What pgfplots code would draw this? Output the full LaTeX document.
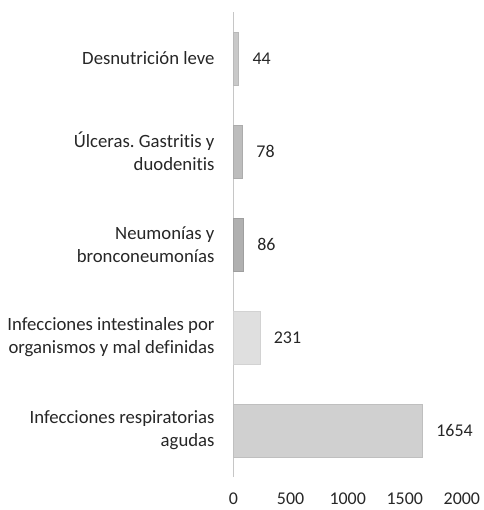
\documentclass[border=0pt]{standalone}
\usepackage{pgfplots}
\pgfplotsset{compat=1.18}
\usepackage{fontspec}
\setmainfont{Carlito}[Ligatures=NoCommon]
\frenchspacing
\begin{document}
\begin{tikzpicture}[x=1bp,y=1bp]
% page frame: 484 x 510, axis box starts at (0,0)
\path[use as bounding box] (-233.5bp,-33bp) rectangle ++(484bp,510bp);
\begin{axis}[
    xbar, bar shift=0pt,
    scale only axis,
    width=228.4bp, height=465bp,
    xmin=0, xmax=2000,
    ymin=-0.5, ymax=4.5,
    xtick={0,500,1000,1500,2000},
    ytick={0,1,2,3,4},
    yticklabels={{Infecciones respiratorias\\agudas},
                 {Infecciones intestinales por\\organismos y mal definidas},
                 {Neumonías y\\bronconeumonías},
                 {Úlceras. Gastritis y\\duodenitis},
                 {Desnutrición leve}},
    yticklabel style={align=right, font=\fontsize{18.8}{23}\selectfont, text=black!85},
    xticklabel style={font=\fontsize{18}{22}\selectfont, text=black!85, inner sep=1bp},
    /pgf/number format/assume math mode=true,
    /pgf/number format/1000 sep={},
    scaled x ticks=false,
    axis lines*=left,
    x axis line style={draw=none},
    y axis line style={draw=gray!45, line width=0.8bp},
    tick style={draw=none},
    major tick length=0pt,
    xtick pos=bottom,
    xticklabel shift=15bp,
    yticklabel shift=15.5bp,
    bar width=0.57,
    nodes near coords,
    nodes near coords style={font=\fontsize{18}{22}\selectfont, text=black!85,
        anchor=west, xshift=10.5bp},
    point meta=explicit symbolic,
    clip=false,
]
\addplot[draw=gray!50, fill=gray!37] coordinates {(1654,0) [1654]};
\addplot[draw=gray!35, fill=gray!25] coordinates {(231,1) [231]};
\addplot[draw=gray!75, fill=gray!62] coordinates {(86,2) [86]};
\addplot[draw=gray!65, fill=gray!52] coordinates {(78,3) [78]};
\addplot[draw=gray!55, fill=gray!42] coordinates {(44,4) [44]};
\end{axis}
\end{tikzpicture}
\end{document}
